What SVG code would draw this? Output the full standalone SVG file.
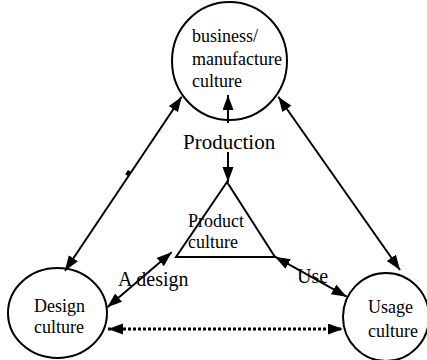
<svg xmlns="http://www.w3.org/2000/svg" width="427" height="360" viewBox="0 0 427 360">
<style>
.node{fill:#fff;stroke:#000;stroke-width:2}
.nt{font-family:"Liberation Serif","Times New Roman",serif;font-size:18px;fill:#000}
.lt{font-family:"Liberation Serif","Times New Roman",serif;font-size:20px;fill:#000}
.c{stroke:#000;stroke-width:2;fill:none}
.dot{stroke:#000;stroke-width:3;fill:none;stroke-dasharray:3 2}
</style>
<defs>
<marker id="ah" markerUnits="userSpaceOnUse" markerWidth="16" markerHeight="12" refX="15" refY="5.5" orient="auto-start-reverse" viewBox="0 0 16 12">
<path d="M0,0 L15,5.5 L0,11 z" fill="#000"/>
</marker>
</defs>
<rect width="427" height="360" fill="#fff"/>
<g id="connectors">
<line class="c" x1="181.7" y1="96.7" x2="65" y2="270.7" marker-start="url(#ah)" marker-end="url(#ah)"/>
<line class="c" x1="126.6" y1="175.1" x2="129.4" y2="170.9" style="stroke-width:3.5"/>
<line class="c" x1="278.3" y1="96.7" x2="400" y2="270" marker-start="url(#ah)" marker-end="url(#ah)"/>
<line class="c" x1="228" y1="123" x2="228" y2="95" marker-end="url(#ah)"/>
<line class="c" x1="228" y1="152" x2="228" y2="182" marker-end="url(#ah)"/>
<line class="c" x1="171.7" y1="252.3" x2="107.3" y2="307.3" marker-start="url(#ah)" marker-end="url(#ah)"/>
<line class="c" x1="275" y1="256.7" x2="346.7" y2="296.7" marker-start="url(#ah)" marker-end="url(#ah)"/>
<line class="dot" x1="108" y1="329" x2="343" y2="329" marker-start="url(#ah)" marker-end="url(#ah)"/>
<text class="lt" x="183" y="149" style="font-size:21px">Production</text>
<text class="lt" x="118" y="286">A design</text>
<text class="lt" x="297" y="283">Use</text>
</g>
<g id="business">
<ellipse class="node" cx="229.5" cy="61" rx="57.5" ry="59" style="fill:none"/>
<text class="nt" x="192" y="42">business/</text>
<text class="nt" x="192" y="65">manufacture</text>
<text class="nt" x="192" y="87">culture</text>
</g>
<g id="product">
<polygon class="node" points="227,182 176,257 275,257" style="fill:none"/>
<text class="nt" x="188" y="227">Product</text>
<text class="nt" x="188" y="248">culture</text>
</g>
<g id="design">
<ellipse class="node" cx="57.5" cy="313" rx="49.5" ry="45" style="fill:none"/>
<text class="nt" x="34" y="312">Design</text>
<text class="nt" x="34" y="333">culture</text>
</g>
<g id="usage">
<ellipse class="node" cx="386" cy="317" rx="43" ry="44" style="fill:none"/>
<text class="nt" x="368" y="313">Usage</text>
<text class="nt" x="368" y="337">culture</text>
</g>
</svg>
